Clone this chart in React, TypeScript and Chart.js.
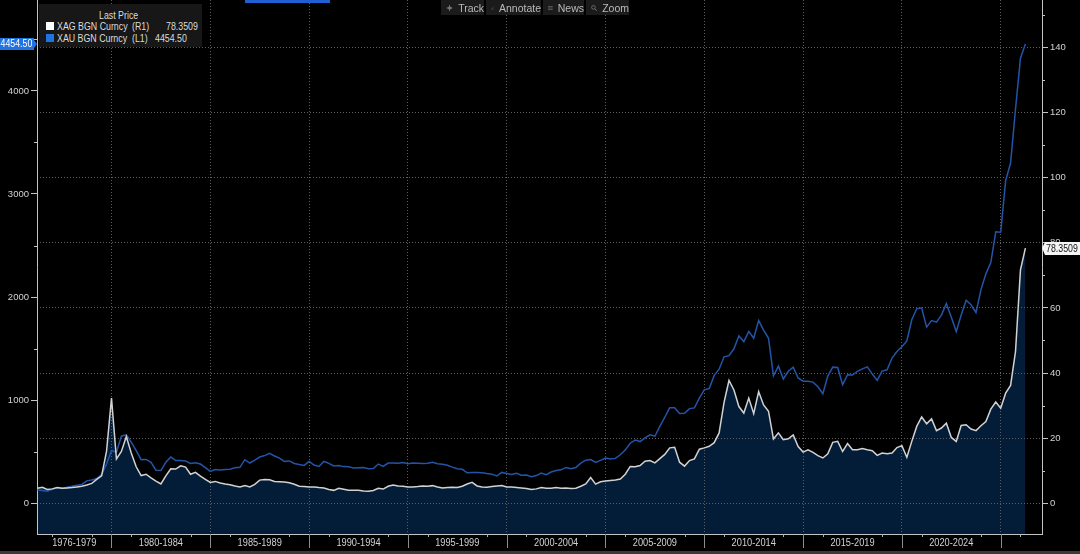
import React, { useEffect, useRef } from 'react';
import { Chart, registerables } from 'chart.js';

Chart.register(...registerables);

// ---------- data ----------
// Quarterly observations, first one at the end of Q1 1976 (decimal year), one every quarter.
const FIRST_QUARTER_END = 1976.25;
const QUARTER_STEP = 0.25;

const seriesNames = ['XAG BGN Curncy', 'XAU BGN Curncy'];
const seriesAxisTags = ['(R1)', '(L1)'];

// XAU (gold), USD/oz – left axis
const goldQuarterly: number[] = [
  129, 124, 116, 135, // 1976
  149, 142, 154, 165, // 1977
  175, 182, 217, 226, // 1978
  240, 277, 380, 512, // 1979
  494, 650, 664, 592, // 1980
  510, 423, 425, 397, // 1981
  320, 317, 397, 448, // 1982
  414, 414, 410, 385, // 1983
  392, 380, 345, 309, // 1984
  327, 322, 326, 330, // 1985
  344, 348, 422, 390, // 1986
  418, 448, 462, 484, // 1987
  458, 437, 405, 410, // 1988
  385, 375, 367, 405, // 1989
  370, 356, 405, 386, // 1990
  362, 366, 355, 353, // 1991
  342, 345, 347, 335, // 1992
  337, 380, 357, 390, // 1993
  390, 388, 395, 384, // 1994
  390, 388, 385, 388, // 1995
  398, 383, 379, 368, // 1996
  350, 334, 329, 295, // 1997
  298, 297, 296, 288, // 1998
  282, 264, 299, 289, // 1999
  279, 291, 272, 273, // 2000
  258, 268, 293, 277, // 2001
  303, 318, 324, 347, // 2002
  334, 346, 388, 417, // 2003
  424, 395, 416, 438, // 2004
  428, 435, 470, 515, // 2005
  582, 613, 598, 634, // 2006
  663, 650, 745, 834, // 2007
  925, 925, 870, 872, // 2008
  918, 925, 1020, 1100, // 2009
  1112, 1240, 1300, 1420, // 2010
  1432, 1498, 1622, 1568, // 2011
  1667, 1600, 1772, 1680, // 2012
  1600, 1236, 1330, 1205, // 2013
  1280, 1320, 1215, 1184, // 2014
  1183, 1175, 1130, 1062, // 2015
  1234, 1320, 1316, 1150, // 2016
  1247, 1243, 1280, 1303, // 2017
  1323, 1253, 1191, 1282, // 2018
  1294, 1408, 1472, 1517, // 2019
  1575, 1780, 1886, 1895, // 2020
  1708, 1772, 1757, 1825, // 2021
  1937, 1805, 1665, 1826, // 2022
  1969, 1925, 1850, 2070, // 2023
  2225, 2335, 2634, 2630, // 2024
  3130, 3300, 3825, 4318, // 2025
  4454.5, // 2026 (latest)
];

// XAG (silver), USD/oz – right axis
const silverQuarterly: number[] = [
  4.6, 4.9, 4.2, 4.4, // 1976
  4.85, 4.6, 4.7, 4.8, // 1977
  5.0, 5.2, 5.6, 6.1, // 1978
  7.3, 8.4, 16.0, 32.3, // 1979
  13.6, 15.9, 20.5, 15.4, // 1980
  11.2, 8.5, 8.9, 7.8, // 1981
  6.8, 5.9, 8.4, 10.6, // 1982
  10.5, 11.5, 11.1, 8.9, // 1983
  9.5, 8.3, 7.3, 6.4, // 1984
  6.7, 6.2, 5.9, 5.7, // 1985
  5.3, 5.0, 5.4, 5.0, // 1986
  5.8, 7.1, 7.3, 7.2, // 1987
  6.7, 6.6, 6.5, 6.3, // 1988
  5.8, 5.2, 5.1, 5.0, // 1989
  5.0, 4.8, 4.65, 4.2, // 1990
  3.95, 4.6, 4.3, 3.95, // 1991
  4.0, 3.95, 3.75, 3.65, // 1992
  3.9, 4.6, 4.35, 5.2, // 1993
  5.6, 5.3, 5.2, 5.0, // 1994
  4.95, 5.1, 5.3, 5.2, // 1995
  5.4, 5.0, 4.7, 4.8, // 1996
  4.9, 4.8, 5.2, 5.9, // 1997
  6.4, 5.3, 5.0, 4.9, // 1998
  5.1, 5.3, 5.45, 5.0, // 1999
  4.95, 4.85, 4.7, 4.55, // 2000
  4.2, 4.4, 4.85, 4.6, // 2001
  4.6, 4.85, 4.6, 4.7, // 2002
  4.5, 4.6, 5.2, 5.9, // 2003
  7.9, 5.85, 6.6, 6.8, // 2004
  7.0, 7.1, 7.45, 8.9, // 2005
  11.3, 11.2, 11.6, 12.9, // 2006
  13.1, 12.4, 13.7, 15.0, // 2007
  17.0, 17.2, 12.6, 11.4, // 2008
  13.1, 13.6, 16.6, 17.0, // 2009
  17.5, 18.6, 21.6, 31.0, // 2010
  37.7, 34.8, 29.7, 27.7, // 2011
  32.3, 27.5, 34.3, 30.2, // 2012
  28.2, 19.7, 21.6, 19.5, // 2013
  19.8, 21.0, 17.4, 15.7, // 2014
  16.4, 15.6, 14.6, 13.9, // 2015
  15.2, 18.7, 19.0, 15.9, // 2016
  18.3, 16.4, 16.4, 16.8, // 2017
  16.4, 16.1, 14.7, 15.4, // 2018
  15.2, 15.4, 17.1, 17.7, // 2019
  14.1, 19.0, 23.6, 26.5, // 2020
  24.4, 25.9, 22.3, 23.1, // 2021
  24.6, 20.2, 19.0, 23.9, // 2022
  24.1, 22.8, 22.3, 23.8, // 2023
  25.1, 28.9, 31.1, 29.2, // 2024
  33.8, 36.2, 46.6, 71.7, // 2025
  78.3509, // 2026 (latest)
];

const periodLabels = [
  '1976-1979', '1980-1984', '1985-1989', '1990-1994', '1995-1999',
  '2000-2004', '2005-2009', '2010-2014', '2015-2019', '2020-2024',
];
const periodBounds = [1980, 1985, 1990, 1995, 2000, 2005, 2010, 2015, 2020, 2025];
const xMinorTickYears = [
  1977, 1979, 1981, 1984, 1986, 1989, 1991, 1994, 1996, 1999, 2001, 2004,
  2006, 2009, 2011, 2014, 2016, 2019, 2021, 2024, 2026,
];
const leftAxisTicks = [0, 1000, 2000, 3000, 4000];
const leftAxisMinorTicks = [500, 1500, 2500, 3500, 4500];
const rightAxisTicks = [0, 20, 40, 60, 80, 100, 120, 140];
const rightAxisMinorTicks = [10, 30, 50, 70, 90, 110, 130, 150];

const X_MIN = 1976.23;
const X_MAX = 2027.09;
const LEFT_MIN = -298.7;
const LEFT_MAX = 4882;
const RIGHT_MIN = -9.46;
const RIGHT_MAX = 154.6;

// ---------- styles ----------
const FONT = '"Liberation Sans", Arial, sans-serif';
const NARROW = 0.84; // horizontal squeeze to mimic the terminal's narrow face
const GRID = '#5e5e5e';
const AXIS = '#c4c4c4';
const LABEL = '#d2d2d2';
const GOLD_COLOR = '#2454a8';
const SILVER_COLOR = '#d2d2d2';
const FILL_COLOR = '#031d38';
const TAG_BLUE = '#1f74e2';

const lastGold = goldQuarterly[goldQuarterly.length - 1];
const lastSilver = silverQuarterly[silverQuarterly.length - 1];

const crisp = (v: number) => Math.round(v) + 0.5;

function narrowText(ctx: any, text: string, x: number, y: number, align: 'left' | 'center' | 'right') {
  ctx.save();
  ctx.translate(x, y);
  ctx.scale(NARROW, 1);
  ctx.textAlign = align;
  ctx.fillText(text, 0, 0);
  ctx.restore();
}

const decorPlugin = {
  id: 'decor',
  afterDraw(chart: any) {
    const { ctx, chartArea: area } = chart;
    const xs = chart.scales.x;
    const yL = chart.scales.yL;
    const yR = chart.scales.yR;
    ctx.save();
    ctx.lineWidth = 1;
    ctx.setLineDash([]);

    // minor ticks on the value axes
    ctx.strokeStyle = AXIS;
    rightAxisMinorTicks.forEach((v) => {
      const py = crisp(yR.getPixelForValue(v));
      ctx.beginPath();
      ctx.moveTo(area.right, py);
      ctx.lineTo(area.right + 3, py);
      ctx.stroke();
    });
    leftAxisMinorTicks.forEach((v) => {
      const py = crisp(yL.getPixelForValue(v));
      ctx.beginPath();
      ctx.moveTo(area.left - 3, py);
      ctx.lineTo(area.left, py);
      ctx.stroke();
    });

    // x axis: period dividers and minor ticks
    ctx.strokeStyle = '#8c8c8c';
    periodBounds.forEach((b) => {
      const px = crisp(xs.getPixelForValue(b));
      ctx.beginPath();
      ctx.moveTo(px, area.bottom);
      ctx.lineTo(px, area.bottom + 14);
      ctx.stroke();
    });
    ctx.strokeStyle = '#b0b0b0';
    xMinorTickYears.forEach((yv) => {
      const px = crisp(xs.getPixelForValue(yv));
      ctx.beginPath();
      ctx.moveTo(px, area.bottom);
      ctx.lineTo(px, area.bottom + 3);
      ctx.stroke();
    });

    // period labels centred in their periods
    ctx.fillStyle = LABEL;
    ctx.font = `11px ${FONT}`;
    ctx.textBaseline = 'middle';
    periodLabels.forEach((lab, i) => {
      const a = xs.getPixelForValue(i === 0 ? xs.min : periodBounds[i - 1]);
      const b = xs.getPixelForValue(periodBounds[i]);
      narrowText(ctx, lab, (a + b) / 2, area.bottom + 8.5, 'center');
    });

    // last price tag, left (gold)
    const gy = Math.round(yL.getPixelForValue(lastGold));
    ctx.fillStyle = TAG_BLUE;
    ctx.fillRect(0, gy - 6, area.left - 3, 12);
    ctx.beginPath();
    ctx.moveTo(area.left - 3, gy - 4);
    ctx.lineTo(area.left, gy);
    ctx.lineTo(area.left - 3, gy + 4);
    ctx.closePath();
    ctx.fill();
    ctx.fillStyle = '#ffffff';
    ctx.font = `10.5px ${FONT}`;
    narrowText(ctx, lastGold.toFixed(2), 0.5, gy + 0.5, 'left');

    // last price tag, right (silver)
    const sy = Math.round(yR.getPixelForValue(lastSilver));
    ctx.fillStyle = '#f4f4f4';
    ctx.beginPath();
    ctx.moveTo(area.right, sy);
    ctx.lineTo(area.right + 3, sy - 6);
    ctx.lineTo(chart.width, sy - 6);
    ctx.lineTo(chart.width, sy + 7);
    ctx.lineTo(area.right + 3, sy + 7);
    ctx.closePath();
    ctx.fill();
    ctx.fillStyle = '#111111';
    narrowText(ctx, lastSilver.toFixed(4), area.right + 4, sy + 1, 'left');

    ctx.restore();
  },
};

const toPoints = (values: number[]) =>
  values.map((v, i) => ({ x: FIRST_QUARTER_END + i * QUARTER_STEP, y: v }));

const tickFont = { family: FONT, size: 9.5 };

function TrackIcon() {
  return (
    <svg width="8" height="8" viewBox="0 0 8 8" style={{ display: 'block' }}>
      <path d="M4 0 L5 3 L8 4 L5 5 L4 8 L3 5 L0 4 L3 3 Z" fill="#7a7a7a" />
    </svg>
  );
}
function AnnotateIcon() {
  return (
    <svg width="8" height="8" viewBox="0 0 8 8" style={{ display: 'block' }}>
      <path d="M7 1 L1 7 L7.5 7" stroke="#7a7a7a" strokeWidth="1" fill="none" />
    </svg>
  );
}
function NewsIcon() {
  return (
    <svg width="8" height="8" viewBox="0 0 8 8" style={{ display: 'block' }}>
      <path d="M0 1.5 H8 M0 4 H8 M0 6.5 H8" stroke="#7a7a7a" strokeWidth="1" />
    </svg>
  );
}
function ZoomIcon() {
  return (
    <svg width="8" height="8" viewBox="0 0 8 8" style={{ display: 'block' }}>
      <circle cx="3.2" cy="3.2" r="2.4" stroke="#7a7a7a" strokeWidth="1" fill="none" />
      <path d="M5 5 L7.6 7.6" stroke="#7a7a7a" strokeWidth="1.2" />
    </svg>
  );
}

const toolbarItems = [
  { label: 'Track', left: 441, width: 43, Icon: TrackIcon },
  { label: 'Annotate', left: 486, width: 55, Icon: AnnotateIcon },
  { label: 'News', left: 543, width: 41, Icon: NewsIcon },
  { label: 'Zoom', left: 586, width: 43, Icon: ZoomIcon },
];

function Narrow({ left, children }: { left: number; children: React.ReactNode }) {
  return (
    <span
      style={{
        position: 'absolute',
        left,
        top: 0,
        whiteSpace: 'nowrap',
        transform: `scaleX(${NARROW})`,
        transformOrigin: 'left center',
      }}
    >
      {children}
    </span>
  );
}

export default function App() {
  const canvasRef = useRef<HTMLCanvasElement | null>(null);

  useEffect(() => {
    const canvas = canvasRef.current;
    if (!canvas) return;
    const chart = new Chart(canvas, {
      type: 'line',
      data: {
        datasets: [
          {
            label: seriesNames[0],
            data: toPoints(silverQuarterly),
            yAxisID: 'yR',
            borderColor: SILVER_COLOR,
            borderWidth: 1.5,
            backgroundColor: FILL_COLOR,
            fill: 'start',
            pointRadius: 0,
            tension: 0,
          },
          {
            label: seriesNames[1],
            data: toPoints(goldQuarterly),
            yAxisID: 'yL',
            borderColor: GOLD_COLOR,
            borderWidth: 1.5,
            fill: false,
            pointRadius: 0,
            tension: 0,
          },
        ],
      },
      options: {
        animation: false,
        responsive: false,
        maintainAspectRatio: false,
        layout: { padding: 0 },
        events: [],
        plugins: {
          legend: { display: false },
          tooltip: { enabled: false },
          filler: { drawTime: 'beforeDraw' },
        } as any,
        scales: {
          x: {
            type: 'linear',
            min: X_MIN,
            max: X_MAX,
            afterBuildTicks: (s: any) => {
              s.ticks = periodBounds.map((v) => ({ value: v }));
            },
            ticks: { display: false },
            grid: { color: GRID, lineWidth: 1, drawTicks: false },
            border: { display: true, color: AXIS, width: 1, dash: [1, 2] },
            afterFit: (s: any) => {
              s.height = 20;
              s.paddingLeft = 0;
              s.paddingRight = 0;
            },
          },
          yL: {
            type: 'linear',
            position: 'left',
            min: LEFT_MIN,
            max: LEFT_MAX,
            afterBuildTicks: (s: any) => {
              s.ticks = leftAxisTicks.map((v) => ({ value: v }));
            },
            ticks: {
              color: LABEL,
              font: tickFont,
              padding: 2,
              callback: (v: any) => String(v),
            },
            grid: {
              drawOnChartArea: false,
              drawTicks: true,
              tickLength: 6,
              tickColor: AXIS,
              tickWidth: 1,
            },
            border: { display: true, color: AXIS, width: 1 },
            afterFit: (s: any) => {
              s.width = 37;
              s.paddingTop = 0;
              s.paddingBottom = 0;
            },
          },
          yR: {
            type: 'linear',
            position: 'right',
            min: RIGHT_MIN,
            max: RIGHT_MAX,
            afterBuildTicks: (s: any) => {
              s.ticks = rightAxisTicks.map((v) => ({ value: v }));
            },
            ticks: {
              color: LABEL,
              font: tickFont,
              padding: 2,
              callback: (v: any) => String(v),
            },
            grid: {
              drawOnChartArea: true,
              color: GRID,
              lineWidth: 1,
              drawTicks: true,
              tickLength: 6,
              tickColor: AXIS,
              tickWidth: 1,
            },
            border: { display: true, color: AXIS, width: 1, dash: [1, 2] },
            afterFit: (s: any) => {
              s.width = 38;
              s.paddingTop = 0;
              s.paddingBottom = 0;
            },
          },
        } as any,
      },
      plugins: [decorPlugin],
    } as any);
    return () => chart.destroy();
  }, []);

  const rowStyle: React.CSSProperties = { position: 'absolute', left: 0, height: 12, width: '100%' };

  return (
    <div
      style={{
        position: 'absolute',
        left: 0,
        top: 0,
        width: 1080,
        height: 554,
        background: '#000',
        overflow: 'hidden',
        fontFamily: FONT,
      }}
    >
      <canvas
        ref={canvasRef}
        width={1080}
        height={554}
        style={{ position: 'absolute', left: 0, top: 0, width: 1080, height: 554 }}
      />

      {/* blue strip at the very top */}
      <div style={{ position: 'absolute', left: 245, top: 0, width: 85, height: 3, background: '#1f5fd2' }} />

      {/* toolbar */}
      {toolbarItems.map(({ label, left, width, Icon }) => (
        <div
          key={label}
          style={{
            position: 'absolute',
            left,
            top: 0,
            width,
            height: 15,
            background: '#1b1b1b',
            display: 'flex',
            alignItems: 'center',
            gap: 5,
            paddingLeft: 5,
            boxSizing: 'border-box',
            color: '#b9b9b9',
            fontSize: 10.5,
          }}
        >
          <Icon />
          <span>{label}</span>
        </div>
      ))}

      {/* legend */}
      <div
        style={{
          position: 'absolute',
          left: 39,
          top: 4,
          width: 163,
          height: 43,
          background: '#171717',
          color: '#dcdcdc',
          fontSize: 10.5,
          lineHeight: '12px',
        }}
      >
        <div style={{ ...rowStyle, top: 5 }}>
          <Narrow left={60}>Last Price</Narrow>
        </div>
        <div style={{ ...rowStyle, top: 16 }}>
          <div style={{ position: 'absolute', left: 7, top: 2, width: 8, height: 8, background: '#ffffff' }} />
          <Narrow left={18}>{seriesNames[0]}</Narrow>
          <Narrow left={93}>{seriesAxisTags[0]}</Narrow>
          <Narrow left={127}>{lastSilver.toFixed(4)}</Narrow>
        </div>
        <div style={{ ...rowStyle, top: 28 }}>
          <div style={{ position: 'absolute', left: 7, top: 2, width: 8, height: 8, background: TAG_BLUE }} />
          <Narrow left={18}>{seriesNames[1]}</Narrow>
          <Narrow left={93}>{seriesAxisTags[1]}</Narrow>
          <Narrow left={116}>{lastGold.toFixed(2)}</Narrow>
        </div>
      </div>

      {/* bottom scroll strip */}
      <div style={{ position: 'absolute', left: 0, top: 551, width: 1080, height: 3, background: '#3a3a3a' }} />
    </div>
  );
}
